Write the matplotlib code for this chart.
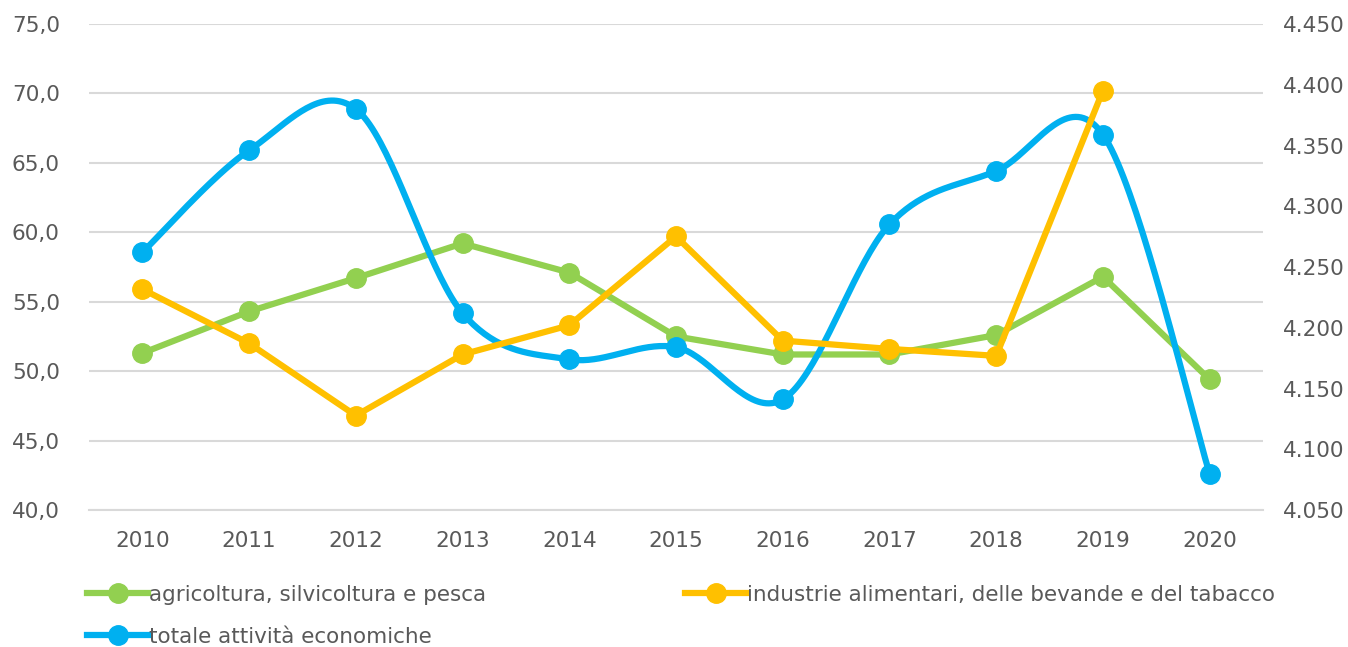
import numpy as np
import matplotlib
matplotlib.use("Agg")
import matplotlib.pyplot as plt
from matplotlib.lines import Line2D
from matplotlib.ticker import FuncFormatter, MultipleLocator

years = ["2010", "2011", "2012", "2013", "2014", "2015", "2016", "2017", "2018", "2019", "2020"]
agricoltura = [51.3, 54.3, 56.7, 59.2, 57.1, 52.5, 51.2, 51.2, 52.6, 56.8, 49.4]
industrie = [55.9, 52.0, 46.8, 51.2, 53.3, 59.7, 52.2, 51.6, 51.1, 70.2, np.nan]
totale = [4262, 4346, 4380, 4212, 4174, 4184, 4141, 4285, 4329, 4359, 4080]

GREEN = "#92D050"
ORANGE = "#FFC000"
BLUE = "#00B0F0"
TXT = "#595959"
GRID = "#D9D9D9"

plt.rcParams['font.family'] = ['DejaVu Sans']
FS = 15.5


def excel_smooth(x, y, n=40):
    x = np.asarray(x, float)
    y = np.asarray(y, float)
    P = np.column_stack([x, y])
    out = []
    for i in range(len(P) - 1):
        p0 = P[i - 1] if i > 0 else P[i]
        p1 = P[i]
        p2 = P[i + 1]
        p3 = P[i + 2] if i + 2 < len(P) else P[i + 1]
        c1 = p1 + (p2 - p0) / 6.0
        c2 = p2 - (p3 - p1) / 6.0
        t = np.linspace(0, 1, n)[:, None]
        seg = ((1 - t) ** 3) * p1 + 3 * ((1 - t) ** 2) * t * c1 + 3 * (1 - t) * t ** 2 * c2 + t ** 3 * p2
        out.append(seg if i == 0 else seg[1:])
    s = np.vstack(out)
    return s[:, 0], s[:, 1]


fig = plt.figure(figsize=(13.48, 6.47), dpi=100)
W, H = 1348, 647
left, right, top, bottom = 89, 1263, 24, 510
ax = fig.add_axes([left / W, 1 - bottom / H, (right - left) / W, (bottom - top) / H])
ax2 = ax.twinx()
ax3 = ax.twinx()

x = np.arange(len(years))
lw = 4.5
ms = 14

ax.plot(x, agricoltura, color=GREEN, lw=lw, marker='o', ms=ms, zorder=3)
sx, sy = excel_smooth(x, totale)
ax2.plot(sx, sy, color=BLUE, lw=lw, zorder=3)
ax2.plot(x, totale, color=BLUE, lw=0, marker='o', ms=ms, zorder=4)
ax3.plot(x, industrie, color=ORANGE, lw=lw, marker='o', ms=ms, zorder=3)

ax.set_xlim(-0.5, len(years) - 0.5)
ax.set_ylim(40, 75)
ax3.set_ylim(40, 75)
ax2.set_ylim(4050, 4450)
ax.yaxis.set_major_locator(MultipleLocator(5))
ax2.yaxis.set_major_locator(MultipleLocator(50))
ax.yaxis.set_major_formatter(FuncFormatter(lambda v, p: f"{v:.1f}".replace('.', ',')))
ax2.yaxis.set_major_formatter(FuncFormatter(lambda v, p: f"{int(round(v)):,}".replace(',', '.')))

ax.set_xticks(x)
ax.set_xticklabels(years)
ax.grid(axis='y', color=GRID, lw=1.5)
ax.set_axisbelow(True)
for a in (ax, ax2, ax3):
    for s in a.spines.values():
        s.set_visible(False)
ax.spines['bottom'].set_visible(True)
ax.spines['bottom'].set_color(GRID)
ax.spines['bottom'].set_linewidth(1.5)

ax.tick_params(axis='x', length=0, pad=15, labelsize=FS, labelcolor=TXT)
ax.tick_params(axis='y', length=0, pad=21, labelsize=FS, labelcolor=TXT)
ax2.tick_params(axis='y', length=0, pad=14, labelsize=FS, labelcolor=TXT)
ax3.set_yticks([])
ax3.tick_params(axis='both', length=0)

def handle(c):
    return Line2D([], [], color=c, lw=lw, marker='o', ms=ms)

leg_kw = dict(frameon=False, fontsize=FS, handlelength=2.85, handletextpad=0.05,
              labelcolor=TXT, borderaxespad=0, borderpad=0, labelspacing=1.0)
l1 = fig.legend([handle(GREEN), handle(BLUE)],
                ["agricoltura, silvicoltura e pesca", "totale attività economiche"],
                loc='upper left', bbox_to_anchor=(87 / W, 1 - 585 / H), **leg_kw)
l2 = fig.legend([handle(ORANGE)],
                ["industrie alimentari, delle bevande e del tabacco"],
                loc='upper left', bbox_to_anchor=(685 / W, 1 - 585 / H), **leg_kw)

fig.savefig("out.png", dpi=100)
